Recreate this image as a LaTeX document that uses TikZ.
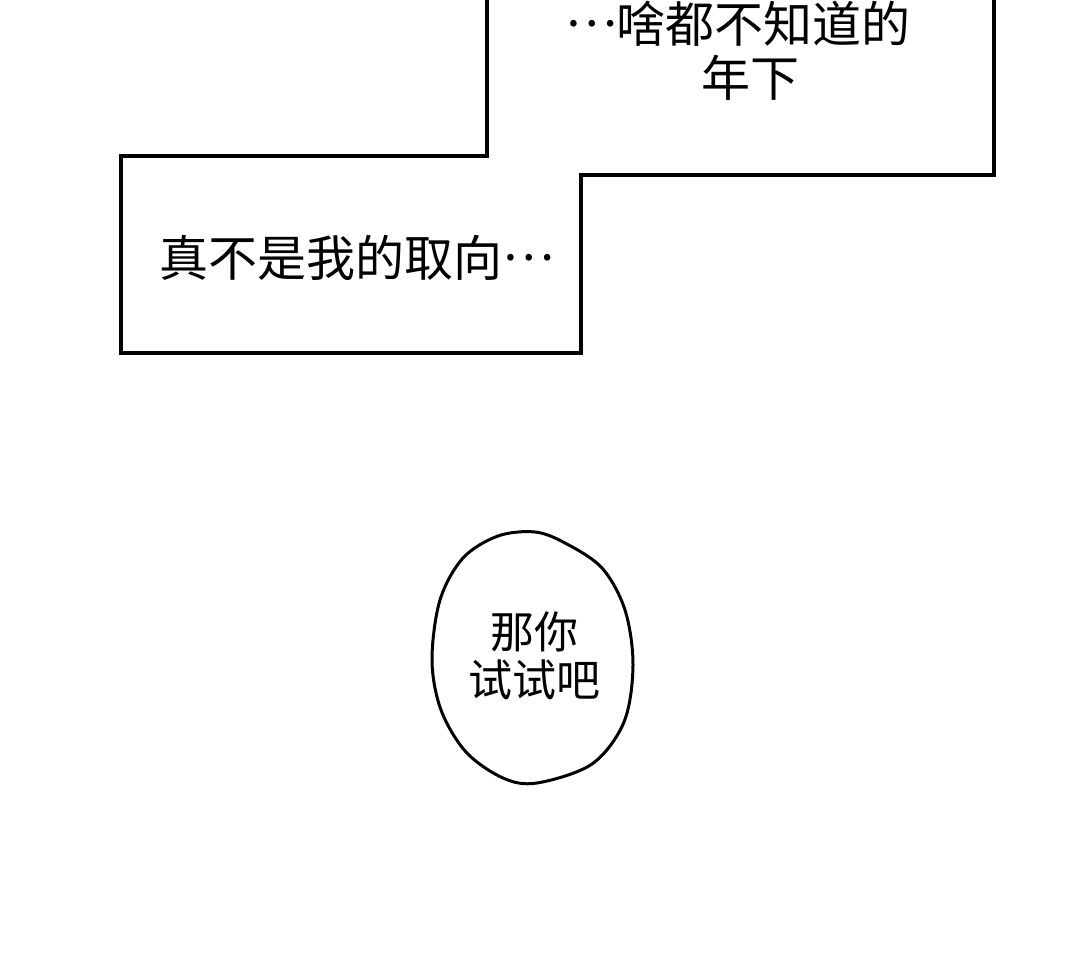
\documentclass[tikz,border=0pt]{standalone}
\usepackage{fontspec}
\newfontfamily\cjk{Noto Sans CJK SC}
\newcommand{\middots}{\raisebox{0.33em}{…}}
\begin{document}
\begin{tikzpicture}[x=1pt,y=-1pt,
    frame/.style={line width=3.5pt, line join=miter},
    caption/.style={font=\cjk\fontsize{49}{56}\selectfont, align=center, inner sep=0pt},
    bubble/.style={line width=3pt},
    bubbletext/.style={font=\cjk\fontsize{44}{48}\selectfont, align=center, inner sep=0pt}]
\useasboundingbox[fill=white] (0,0) rectangle (1080,968);
% the two caption boxes as one outline
\begin{scope}
  \clip (0,0) rectangle (1080,968);
  \draw[frame] (487,-10) -- (487,156) -- (121,156) -- (121,353)
    -- (581,353) -- (581,175) -- (994,175) -- (994,-10);
\end{scope}
\node[caption] (younger) at (738,24) {\middots 啥都不知道的};
\node[caption] (younger2) at (750,78) {年下};
\node[caption] (taste) at (357,258) {真不是我的取向\middots};
% speech bubble
\draw[bubble] plot[smooth cycle, tension=0.55] coordinates {
  (498,536) (535,532) (565,543) (602,568) (625,610) (633,665)
  (624,722) (592,764) (537,783) (503,778) (466,752) (441,710)
  (432,660) (440,600) (463,558)};
\node[bubbletext] (tryit) at (534,656) {那你\\试试吧};
\end{tikzpicture}
\end{document}
